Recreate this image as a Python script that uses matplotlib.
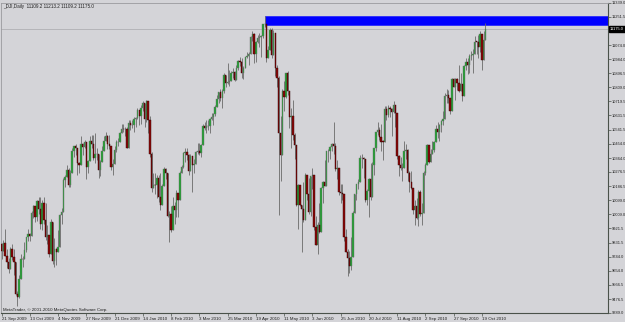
import matplotlib
matplotlib.use("Agg")
import matplotlib.pyplot as plt
from matplotlib.patches import Rectangle
import numpy as np

title = "_DJI,Daily  11109.2 11213.2 11109.2 11175.0"
credit = "MetaTrader, \u00a9 2001-2010 MetaQuotes Software Corp."

date_labels = ["21 Sep 2009", "13 Oct 2009", "4 Nov 2009", "27 Nov 2009", "21 Dec 2009",
               "14 Jan 2010", "8 Feb 2010", "3 Mar 2010", "25 Mar 2010", "19 Apr 2010",
               "11 May 2010", "3 Jun 2010", "25 Jun 2010", "20 Jul 2010", "11 Aug 2010",
               "2 Sep 2010", "27 Sep 2010", "19 Oct 2010"]

price_ticks = [11339.0, 11251.5, 11161.5, 11074.0, 10984.0, 10896.5, 10809.0, 10719.5,
               10631.5, 10541.5, 10454.0, 10364.0, 10276.5, 10186.5, 10099.0, 10009.0,
               9921.5, 9831.5, 9744.0, 9654.0, 9566.5, 9476.5, 9389.0]

last_price = 11175.0
zone_start = 149          # bar of the April high
zone_low, zone_high = 11200, 11258

# daily bars, 21 Sep 2009 .. 21 Oct 2010
opens = [9820, 9779, 9830, 9749, 9707, 9665, 9789, 9742, 9712, 9509,
         9488, 9600, 9731, 9726, 9787, 9865, 9886, 9871, 10016, 10063,
         9996, 10092, 10041, 9949, 10081, 9972, 9868, 9882, 9763, 9963,
         9713, 9789, 9772, 9802, 10006, 10023, 10227, 10247, 10291, 10197,
         10270, 10407, 10437, 10426, 10332, 10318, 10451, 10434, 10464, 10310,
         10345, 10472, 10453, 10366, 10389, 10390, 10286, 10337, 10406, 10472,
         10501, 10452, 10441, 10308, 10329, 10414, 10465, 10466, 10520, 10547,
         10545, 10549, 10428, 10584, 10572, 10574, 10607, 10618, 10664, 10627,
         10681, 10711, 10610, 10725, 10603, 10390, 10173, 10197, 10194, 10236,
         10120, 10067, 10186, 10297, 10271, 10002, 10012, 9908, 10059, 10038,
         10144, 10099, 10269, 10309, 10393, 10402, 10383, 10282, 10374, 10321,
         10325, 10404, 10406, 10397, 10444, 10566, 10553, 10564, 10567, 10612,
         10625, 10642, 10686, 10734, 10779, 10742, 10786, 10889, 10836, 10841,
         10850, 10896, 10907, 10857, 10927, 10974, 10970, 10898, 10927, 10997,
         11006, 11019, 11123, 11145, 11019, 11092, 11117, 11125, 11134, 11204,
         11205, 10992, 11045, 11167, 11009, 11152, 10927, 10868, 10520, 10380,
         10785, 10748, 10897, 10783, 10620, 10626, 10511, 10444, 10068, 10193,
         10067, 10044, 9974, 10259, 10137, 10024, 10250, 10255, 9932, 9816,
         9940, 9899, 10173, 10211, 10191, 10405, 10409, 10434, 10451, 10442,
         10294, 10298, 10153, 10144, 10139, 9870, 9774, 9733, 9686, 9744,
         10018, 10139, 10198, 10216, 10363, 10367, 10359, 10098, 10154, 10230,
         10121, 10322, 10425, 10525, 10538, 10498, 10467, 10466, 10674, 10636,
         10680, 10675, 10654, 10699, 10644, 10379, 10320, 10303, 10302, 10406,
         10416, 10271, 10214, 10174, 10040, 10060, 9986, 10151, 10010, 10015,
         10269, 10320, 10448, 10341, 10387, 10415, 10463, 10544, 10526, 10573,
         10595, 10608, 10754, 10761, 10739, 10662, 10860, 10812, 10858, 10835,
         10788, 10830, 10751, 10945, 10968, 10949, 11006, 11010, 11020, 11096,
         11095, 11063, 11144, 10979, 11109.2]

highs = [9830, 9846, 9918, 9790, 9735, 9805, 9820, 9790, 9712, 9530,
         9630, 9760, 9745, 9835, 9870, 9918, 9890, 10030, 10070, 10063,
         10100, 10120, 10120, 10100, 10120, 10080, 9940, 9882, 9980, 9963,
         9860, 9800, 9910, 10010, 10050, 10240, 10260, 10320, 10300, 10290,
         10430, 10440, 10450, 10426, 10340, 10500, 10460, 10480, 10464, 10350,
         10500, 10510, 10510, 10520, 10430, 10390, 10350, 10440, 10500, 10530,
         10510, 10510, 10441, 10360, 10440, 10480, 10490, 10525, 10580, 10580,
         10560, 10560, 10600, 10600, 10600, 10620, 10620, 10680, 10664, 10700,
         10720, 10711, 10730, 10725, 10630, 10400, 10270, 10270, 10260, 10260,
         10270, 10200, 10310, 10300, 10271, 10030, 10060, 10120, 10090, 10160,
         10144, 10280, 10320, 10400, 10430, 10430, 10390, 10390, 10374, 10360,
         10410, 10460, 10460, 10450, 10580, 10590, 10600, 10600, 10615, 10650,
         10650, 10700, 10760, 10780, 10800, 10800, 10900, 10889, 10960, 10920,
         10910, 10930, 10910, 10950, 10980, 11000, 10990, 10940, 11000, 11030,
         11030, 11130, 11160, 11150, 11100, 11140, 11150, 11140, 11210, 11258,
         11210, 11070, 11180, 11180, 11170, 11152, 10950, 10880, 10630, 10800,
         10850, 10900, 10910, 10783, 10680, 10730, 10520, 10444, 10200, 10195,
         10070, 10210, 10270, 10260, 10240, 10250, 10300, 10255, 10000, 9960,
         10080, 10180, 10220, 10350, 10410, 10420, 10440, 10460, 10590, 10460,
         10350, 10298, 10200, 10200, 10139, 9920, 9790, 9780, 9870, 10030,
         10140, 10200, 10230, 10380, 10390, 10370, 10359, 10170, 10240, 10330,
         10340, 10430, 10530, 10590, 10560, 10580, 10480, 10690, 10690, 10700,
         10690, 10680, 10720, 10700, 10644, 10380, 10370, 10330, 10470, 10450,
         10420, 10280, 10280, 10174, 10100, 10110, 10160, 10160, 10080, 10280,
         10330, 10450, 10448, 10420, 10470, 10470, 10570, 10590, 10580, 10600,
         10660, 10770, 10800, 10790, 10739, 10870, 10870, 10870, 10870, 10950,
         10900, 10830, 10950, 10990, 10990, 11020, 11040, 11050, 11130, 11100,
         11140, 11160, 11144, 11160, 11213.2]

lows = [9730, 9779, 9745, 9670, 9640, 9665, 9725, 9630, 9505, 9430,
        9485, 9600, 9680, 9726, 9770, 9840, 9840, 9871, 9985, 9960,
        9970, 10010, 9920, 9910, 9950, 9850, 9820, 9740, 9763, 9700,
        9680, 9690, 9770, 9802, 9950, 10023, 10180, 10247, 10180, 10180,
        10270, 10370, 10380, 10260, 10270, 10318, 10380, 10430, 10235, 10270,
        10345, 10430, 10350, 10330, 10350, 10240, 10250, 10337, 10406, 10472,
        10420, 10420, 10290, 10260, 10329, 10400, 10440, 10466, 10520, 10530,
        10500, 10425, 10428, 10540, 10550, 10530, 10560, 10610, 10570, 10580,
        10660, 10560, 10590, 10520, 10370, 10150, 10173, 10140, 10110, 10090,
        10040, 10067, 10186, 10230, 9990, 9835, 9900, 9908, 9950, 9990,
        9990, 10099, 10269, 10300, 10340, 10350, 10260, 10282, 10150, 10270,
        10325, 10390, 10380, 10370, 10444, 10540, 10520, 10540, 10520, 10600,
        10570, 10630, 10686, 10710, 10720, 10680, 10770, 10810, 10830, 10820,
        10850, 10870, 10850, 10857, 10920, 10940, 10870, 10860, 10927, 10990,
        10950, 11019, 11100, 10960, 10970, 11090, 11060, 11000, 11120, 11190,
        10970, 10990, 11045, 10990, 11009, 10880, 10810, 10005, 10220, 10380,
        10660, 10740, 10760, 10550, 10430, 10480, 10360, 10060, 9920, 10060,
        9775, 9960, 9974, 10100, 10010, 10000, 10170, 9910, 9815, 9760,
        9890, 9899, 10080, 10190, 10191, 10340, 10360, 10410, 10390, 10280,
        10230, 10130, 10080, 10100, 9840, 9770, 9620, 9640, 9660, 9740,
        10018, 10100, 10170, 10216, 10300, 10240, 10090, 10070, 9990, 10100,
        10121, 10260, 10410, 10510, 10480, 10410, 10350, 10466, 10600, 10620,
        10620, 10500, 10650, 10560, 10360, 10250, 10290, 10220, 10302, 10360,
        10220, 10150, 10170, 10010, 9940, 9980, 9936, 10000, 9940, 10015,
        10260, 10320, 10330, 10340, 10387, 10400, 10463, 10490, 10470, 10530,
        10570, 10608, 10710, 10710, 10640, 10662, 10810, 10730, 10790, 10780,
        10788, 10720, 10751, 10920, 10890, 10900, 10980, 10900, 11020, 11020,
        10990, 11030, 10920, 10979, 11109.2]

closes = [9779, 9830, 9749, 9707, 9665, 9789, 9742, 9712, 9509, 9488,
          9600, 9731, 9726, 9787, 9865, 9886, 9871, 10016, 10063, 9996,
          10092, 10041, 9949, 10081, 9972, 9868, 9882, 9763, 9963, 9713,
          9789, 9772, 9802, 10006, 10023, 10227, 10247, 10291, 10197, 10270,
          10407, 10437, 10426, 10332, 10318, 10451, 10434, 10464, 10310, 10345,
          10472, 10453, 10366, 10389, 10390, 10286, 10337, 10406, 10472, 10501,
          10452, 10441, 10308, 10329, 10414, 10465, 10466, 10520, 10547, 10545,
          10549, 10428, 10584, 10572, 10574, 10607, 10618, 10664, 10627, 10681,
          10711, 10610, 10725, 10603, 10390, 10173, 10197, 10194, 10236, 10120,
          10067, 10186, 10297, 10271, 10002, 10012, 9908, 10059, 10038, 10144,
          10099, 10269, 10309, 10393, 10402, 10383, 10282, 10374, 10321, 10325,
          10404, 10406, 10397, 10444, 10566, 10553, 10564, 10567, 10612, 10625,
          10642, 10686, 10734, 10779, 10742, 10786, 10889, 10836, 10841, 10850,
          10896, 10907, 10857, 10927, 10974, 10970, 10898, 10927, 10997, 11006,
          11019, 11123, 11145, 11019, 11092, 11117, 11125, 11134, 11204, 11205,
          10992, 11045, 11167, 11009, 11152, 10927, 10868, 10520, 10380, 10785,
          10748, 10897, 10783, 10620, 10626, 10511, 10444, 10068, 10193, 10067,
          10044, 9974, 10259, 10137, 10024, 10250, 10255, 9932, 9816, 9940,
          9899, 10173, 10211, 10191, 10405, 10409, 10434, 10451, 10442, 10294,
          10298, 10153, 10144, 10139, 9870, 9774, 9733, 9686, 9744, 10018,
          10139, 10198, 10216, 10363, 10367, 10359, 10098, 10154, 10230, 10121,
          10322, 10425, 10525, 10538, 10498, 10467, 10466, 10674, 10636, 10680,
          10675, 10654, 10699, 10644, 10379, 10320, 10303, 10302, 10406, 10416,
          10271, 10214, 10174, 10040, 10060, 9986, 10151, 10010, 10015, 10269,
          10320, 10448, 10341, 10387, 10415, 10463, 10544, 10526, 10573, 10595,
          10608, 10754, 10761, 10739, 10662, 10860, 10812, 10858, 10835, 10788,
          10830, 10751, 10945, 10968, 10949, 11006, 11010, 11020, 11096, 11095,
          11063, 11144, 10979, 11108, 11175.0]

plt.rcParams['font.family'] = ['Liberation Sans', 'DejaVu Sans']

bg = "#d4d4d8"
frame = "#4a524a"
txt = "#202020"

o = np.array(opens, dtype=float)
h = np.array(highs, dtype=float)
l = np.array(lows, dtype=float)
c = np.array(closes, dtype=float)
x = np.arange(len(c))
up = c >= o

fig = plt.figure(figsize=(6.25, 3.22), dpi=100, facecolor=bg)
ax = fig.add_axes([1 / 625, 9 / 322, 607 / 625, 310 / 322], facecolor=bg)

px_per_bar = 1.766
x0 = -0.5 / px_per_bar
ax.set_xlim(x0, x0 + 607 / px_per_bar)
ax.set_ylim(price_ticks[-1], price_ticks[0])

# support/resistance zone
ax.add_patch(Rectangle((zone_start, zone_low), 400, zone_high - zone_low,
                       facecolor="#0000ff", edgecolor="#2020ff", lw=0.5, zorder=1))
ax.axhline(last_price, color="#a8a8ac", lw=0.5, zorder=1)

# candles
ax.vlines(x, l, h, color="#6a6a6a", lw=0.6, zorder=2)
ax.bar(x[up], np.maximum(c[up] - o[up], 2), bottom=o[up], width=0.8,
       color="#20a030", edgecolor="#707070", lw=0.3, zorder=3)
ax.bar(x[~up], np.maximum(o[~up] - c[~up], 2), bottom=c[~up], width=0.8,
       color="#8c0a0a", edgecolor="#300000", lw=0.3, zorder=3)

# axes styling
for side in ["left", "top"]:
    ax.spines[side].set_color("#9a9a9e")
    ax.spines[side].set_linewidth(0.6)
for side in ["right", "bottom"]:
    ax.spines[side].set_color(frame)
    ax.spines[side].set_linewidth(0.8)

ax.yaxis.tick_right()
ax.set_yticks(price_ticks, [f"{p:.1f}" for p in price_ticks])
ax.set_xticks(range(0, 16 * len(date_labels), 16), date_labels, ha="left")
ax.tick_params(axis="both", colors=frame, length=2, width=0.5,
               labelcolor=txt, pad=1)
ax.tick_params(axis="x", labelsize=3.2)
ax.tick_params(axis="y", labelsize=2.9, pad=0.6)

ax.text(1, 11339 - 6, title, fontsize=3.3, color=txt, va="top", ha="left")
ax.text(1, 9389 + 8, credit, fontsize=3.2, color=txt, va="bottom", ha="left")

ax.text(1.003, last_price, "11175.0", transform=ax.get_yaxis_transform(),
        fontsize=2.9, color="white", va="center", ha="left", clip_on=False, zorder=10,
        bbox=dict(boxstyle="square,pad=0.25", facecolor="black", edgecolor="black"))

fig.savefig("out.png", dpi=100, facecolor=bg)
